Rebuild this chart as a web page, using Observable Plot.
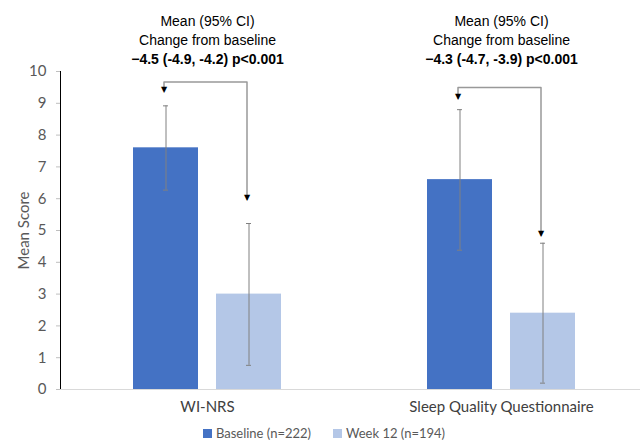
<!DOCTYPE html>
<html>
<head>
<meta charset="utf-8">
<script src="https://cdn.jsdelivr.net/npm/d3@7"></script>
<script src="https://cdn.jsdelivr.net/npm/@observablehq/plot@0.6"></script>
<style>
  body { margin: 0; background: #fff; }
  #chart { width: 640px; height: 445px; position: relative; overflow: hidden; }
  #chart svg { display: block; }
  g[aria-label^="y-axis"] line, g[aria-label^="y-axis"] path { stroke: #bfbfbf; }
  g[aria-label^="y-axis"] text { fill: #595959; }
  g[aria-label^="fx-axis"] text { fill: #404040; }
  .legend { display: flex; justify-content: center; gap: 22px; font-family: Lato, "Open Sans", sans-serif;
            font-size: 13px; color: #595959; margin-top: 5px; padding-left: 8px; }
  .legend .item { display: flex; align-items: center; }
  .legend .sw { display: inline-block; width: 9px; height: 9px; margin-right: 4px; }
</style>
</head>
<body>
<div id="chart"></div>
<script>
// ---- data ----
const categories = ["WI-NRS", "Sleep Quality Questionnaire"];
const series = ["Baseline (n=222)", "Week 12 (n=194)"];
const seriesColors = ["#4472C4", "#B4C7E7"];
const baselineMean = [7.6, 6.6];
const baselineLow = [6.27, 4.38];
const baselineHigh = [8.92, 8.8];
const week12Mean = [3.0, 2.4];
const week12Low = [0.76, 0.2];
const week12High = [5.22, 4.6];
const yTicks = [0, 1, 2, 3, 4, 5, 6, 7, 8, 9, 10];
const annotLine1 = "Mean (95% CI)";
const annotLine2 = "Change from baseline";
const changeText = ["\u22124.5 (-4.9, -4.2) p<0.001", "\u22124.3 (-4.7, -3.9) p<0.001"];
// bracket arrows (score units)
const bracketTop = [9.67, 9.5];
const bracketBaseTip = [9.4, 9.16];
const bracketWeekTip = [5.98, 4.85];

// ---- derived tables ----
const rows = categories.flatMap((c, i) => [
  {category: c, series: series[0], mean: baselineMean[i], lo: baselineLow[i], hi: baselineHigh[i]},
  {category: c, series: series[1], mean: week12Mean[i], lo: week12Low[i], hi: week12High[i]}
]);
const bracketPts = categories.flatMap((c, i) => [
  {category: c, series: series[0], y: bracketBaseTip[i]},
  {category: c, series: series[0], y: bracketTop[i]},
  {category: c, series: series[1], y: bracketTop[i]},
  {category: c, series: series[1], y: bracketWeekTip[i]}
]);
const tips = categories.flatMap((c, i) => [
  {category: c, series: series[0], y: bracketBaseTip[i]},
  {category: c, series: series[1], y: bracketWeekTip[i]}
]);
const annots = categories.map((c, i) => ({category: c, change: changeText[i]}));

const annotFont = "'Liberation Sans', Arial, sans-serif";

const chart = Plot.plot({
  width: 640,
  height: 420,
  marginTop: 71,
  marginBottom: 31,
  marginLeft: 59,
  marginRight: 0,
  style: {fontFamily: "Lato, 'Open Sans', sans-serif", fontSize: "15px", background: "#fff", overflow: "visible"},
  facet: {marginTop: 0, marginBottom: 0, marginLeft: 0, marginRight: 0},
  fx: {domain: categories, range: [59, 648], padding: 0, label: null, tickSize: 0, tickPadding: 12, axis: "bottom", fontSize: 16},
  x: {domain: series, axis: null, paddingInner: 0.214, paddingOuter: 0.86},
  y: {domain: [0, 10], ticks: yTicks, tickSize: 4, tickPadding: 10, line: true, label: "Mean Score", labelArrow: false, labelAnchor: "center", labelOffset: 42},
  color: {domain: series, range: seriesColors},
  marks: [
    Plot.ruleY([0], {stroke: "#d9d9d9", strokeWidth: 1.2}),
    Plot.barY(rows, {fx: "category", x: "series", y: "mean", fill: "series"}),
    Plot.ruleX(rows, {fx: "category", x: "series", y1: "lo", y2: "hi", stroke: "#808080", strokeWidth: 1}),
    Plot.tickY(rows, {fx: "category", x: "series", y: "lo", stroke: "#808080", insetLeft: 30, insetRight: 30}),
    Plot.tickY(rows, {fx: "category", x: "series", y: "hi", stroke: "#808080", insetLeft: 30, insetRight: 30}),
    Plot.line(bracketPts, {fx: "category", x: "series", y: "y", z: "category", stroke: "#999999", strokeWidth: 1.5, dx: -2}),
    Plot.text(tips, {fx: "category", x: "series", y: "y", text: () => "\u25BC", fontSize: 8, fontFamily: "DejaVu Sans", fill: "#000", lineAnchor: "bottom", dx: -2, dy: 1}),
    Plot.text(annots, {fx: "category", frameAnchor: "top", text: () => annotLine1, dy: -55, fontSize: 14, fontFamily: annotFont, fill: "#000"}),
    Plot.text(annots, {fx: "category", frameAnchor: "top", text: () => annotLine2, dy: -36, fontSize: 14, fontFamily: annotFont, fill: "#000"}),
    Plot.text(annots, {fx: "category", frameAnchor: "top", text: "change", dy: -17, fontSize: 14, fontWeight: "bold", fontFamily: annotFont, fill: "#000"})
  ]
});
document.getElementById("chart").appendChild(chart);

// legend (HTML, below the SVG)
const legend = document.createElement("div");
legend.className = "legend";
series.forEach((s, i) => {
  const item = document.createElement("div");
  item.className = "item";
  const sw = document.createElement("span");
  sw.className = "sw";
  sw.style.background = seriesColors[i];
  item.appendChild(sw);
  item.appendChild(document.createTextNode(s));
  legend.appendChild(item);
});
document.getElementById("chart").appendChild(legend);
</script>
</body>
</html>
